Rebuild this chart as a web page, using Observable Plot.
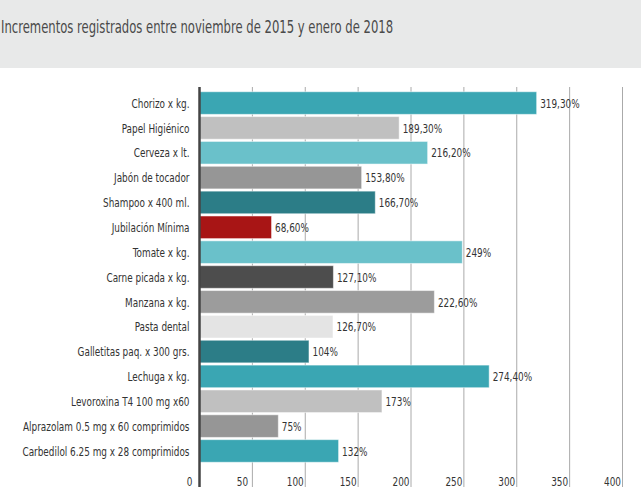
<!DOCTYPE html>
<html>
<head>
<meta charset="utf-8">
<script src="https://cdn.jsdelivr.net/npm/d3@7"></script>
<script src="https://cdn.jsdelivr.net/npm/@observablehq/plot@0.6"></script>
<style>
  html, body { margin: 0; padding: 0; background: #e8e9e9; width: 641px; height: 501px; overflow: hidden; }
  #header { height: 68px; position: relative; }
  #title { position: absolute; left: 1px; top: 17px; font-family: "DejaVu Sans Condensed", "DejaVu Sans", sans-serif; font-size: 17px; color: #4a4a4a; white-space: nowrap; transform: scaleX(0.76); transform-origin: 0 0; }
  #panel { background: #fff; border-top-left-radius: 5px; border-top-right-radius: 5px; height: 433px; }
  svg { display: block; }
</style>
</head>
<body>
<div id="header"><div id="title">Incrementos registrados entre noviembre de 2015 y enero de 2018</div></div>
<div id="panel"></div>
<script>
const categories = [
  "Chorizo x kg.", "Papel Higiénico", "Cerveza x lt.", "Jabón de tocador", "Shampoo x 400 ml.",
  "Jubilación Mínima", "Tomate x kg.", "Carne picada x kg.", "Manzana x kg.", "Pasta dental",
  "Galletitas paq. x 300 grs.", "Lechuga x kg.", "Levoroxina T4 100 mg x60",
  "Alprazolam 0.5 mg x 60 comprimidos", "Carbedilol 6.25 mg x 28 comprimidos"
];
const values = [319.3, 189.3, 216.2, 153.8, 166.7, 68.6, 249, 127.1, 222.6, 126.7, 104, 274.4, 173, 75, 132];
const valueLabels = ["319,30%", "189,30%", "216,20%", "153,80%", "166,70%", "68,60%", "249%", "127,10%",
  "222,60%", "126,70%", "104%", "274,40%", "173%", "75%", "132%"];
const colors = ["#3aa6b3", "#c0c0c0", "#6ac1ca", "#969696", "#2c7d87", "#a81515", "#6ac1ca", "#4d4d4d",
  "#9c9c9c", "#e4e4e4", "#2c7d87", "#3aa6b3", "#c0c0c0", "#969696", "#3aa6b3"];
const xTicks = [0, 50, 100, 150, 200, 250, 300, 350, 400];

const data = categories.map((c, i) => ({ cat: c, value: values[i], label: valueLabels[i], color: colors[i] }));

const FS = 13;
const chart = Plot.plot({
  width: 641,
  height: 433,
  marginLeft: 199,
  marginRight: 19,
  marginTop: 19,
  marginBottom: 14,
  style: { fontFamily: "'DejaVu Sans Condensed', 'DejaVu Sans', sans-serif", fontSize: FS + "px", color: "#333", background: "#fff" },
  x: { domain: [0, 400], ticks: xTicks },
  y: { domain: categories, padding: 0.09, insetTop: 2.5, insetBottom: 22.5, round: false },
  marks: [
    Plot.ruleX(xTicks.slice(1), { stroke: "#aaa", strokeWidth: 1 }),
    Plot.barX(data, { y: "cat", x: "value", fill: "color", stroke: "#fff", strokeOpacity: 0.5, strokeWidth: 1 }),
    Plot.text(data, { y: "cat", x: "value", text: "label", textAnchor: "start", dx: 3, fill: "#333", fontSize: FS }),
    Plot.ruleX([0], { stroke: "#444", strokeWidth: 2.5 }),
    Plot.axisY({ tickSize: 0, tickPadding: 10, label: null, fontSize: FS, fill: "#333" }),
    Plot.axisX({ ticks: xTicks, tickSize: 0, dx: -10, dy: -20, label: null, fontSize: FS, fill: "#333" })
  ]
});
// narrow the glyphs (condensed look of the original typeface)
chart.querySelectorAll("text").forEach(t => {
  const tr = t.getAttribute("transform") || "";
  t.setAttribute("transform", tr + " scale(0.76,1)");
});
document.getElementById("panel").appendChild(chart);
</script>
</body>
</html>
